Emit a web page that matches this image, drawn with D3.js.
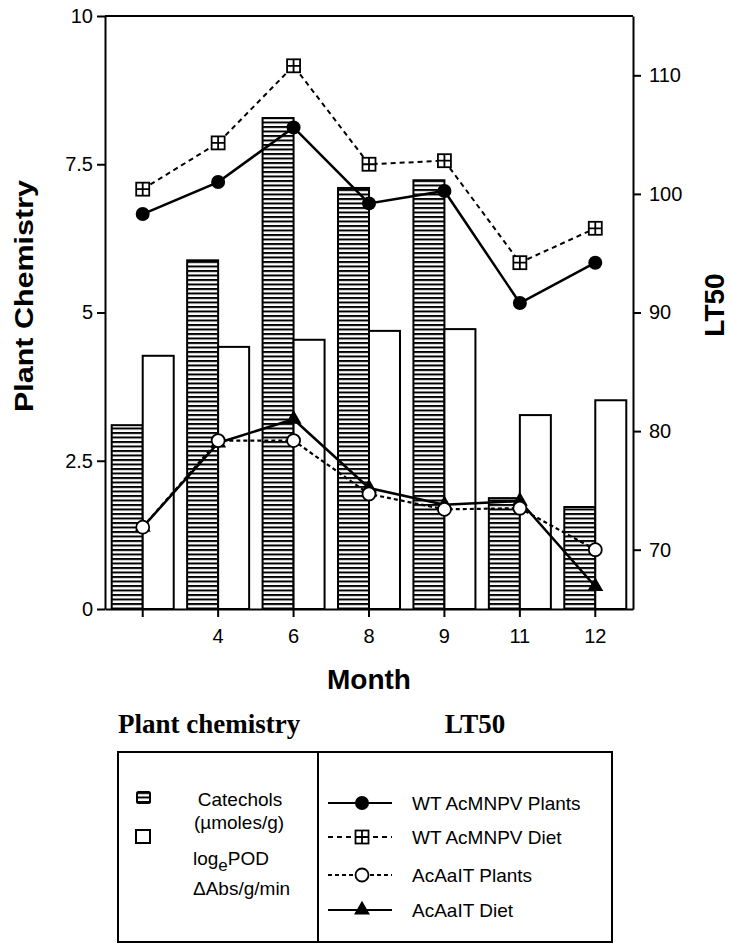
<!DOCTYPE html>
<html>
<head>
<meta charset="utf-8">
<style>
body { margin: 0; background: #fff; }
svg { display: block; }
.axis path, .axis line { stroke: #000; stroke-width: 2; }
.axis text { font-family: "Liberation Sans", Arial, sans-serif; font-size: 20px; fill: #000; }
.axis-title { font-family: "Liberation Sans", Arial, sans-serif; font-weight: bold; fill: #000; }
.legend-title { font-family: "Liberation Serif", "Times New Roman", serif; font-weight: bold; font-size: 27px; fill: #000; }
.legend-text { font-family: "Liberation Sans", Arial, sans-serif; font-size: 19px; fill: #000; }
.bar { stroke: #000; stroke-width: 2; }
</style>
</head>
<body>
<script src="https://cdn.jsdelivr.net/npm/d3@7"></script>
<script>
// values
var months = ["", "4", "6", "8", "9", "11", "12"];
var catechols = [3.1, 5.88, 8.28, 7.1, 7.23, 1.87, 1.72];
var logPOD = [4.27, 4.42, 4.54, 4.69, 4.72, 3.27, 3.52];
var wtPlants = [98.3, 101.0, 105.6, 99.2, 100.25, 90.8, 94.2];
var wtDiet = [100.4, 104.3, 110.8, 102.5, 102.8, 94.2, 97.1];
var aaitPlants = [71.9, 79.2, 79.2, 74.7, 73.4, 73.5, 70.0];
var aaitDiet = [71.9, 79.0, 81.0, 75.2, 73.8, 74.1, 66.9];
var leftTicks = [0, 2.5, 5, 7.5, 10];
var rightTicks = [70, 80, 90, 100, 110];

var width = 730, height = 945;
var plotLeft = 105, plotRight = 633, plotTop = 16, plotBottom = 609;

var svg = d3.select("body").append("svg")
	.attr("width", width)
	.attr("height", height);

var defs = svg.append("defs");
var hatch = defs.append("pattern")
	.attr("id", "hatch")
	.attr("patternUnits", "userSpaceOnUse")
	.attr("width", 10)
	.attr("height", 4.5);
hatch.append("rect").attr("width", 10).attr("height", 4.5).attr("fill", "#fff");
hatch.append("rect").attr("width", 10).attr("height", 2).attr("fill", "#000");

var x = d3.scaleBand().domain(months).range([plotLeft, plotRight]).padding(0);
var yL = d3.scaleLinear().domain([0, 10]).range([plotBottom, plotTop]);
var yR = d3.scaleLinear().domain([65, 115]).range([plotBottom, plotTop]);
var cx = function(i) { return x(months[i]) + x.bandwidth() / 2; };
var barW = 31;

// bars
svg.append("g").selectAll("rect")
	.data(catechols)
	.enter().append("rect")
	.attr("class", "bar")
	.attr("x", function(d, i) { return cx(i) - barW; })
	.attr("y", function(d) { return yL(d); })
	.attr("width", barW)
	.attr("height", function(d) { return yL(0) - yL(d); })
	.attr("fill", "url(#hatch)");

svg.append("g").selectAll("rect")
	.data(logPOD)
	.enter().append("rect")
	.attr("class", "bar")
	.attr("x", function(d, i) { return cx(i); })
	.attr("y", function(d) { return yL(d); })
	.attr("width", barW)
	.attr("height", function(d) { return yL(0) - yL(d); })
	.attr("fill", "#fff");

// frame + axes
svg.append("line")
	.attr("x1", plotLeft).attr("x2", plotRight).attr("y1", plotTop).attr("y2", plotTop)
	.attr("stroke", "#000").attr("stroke-width", 2);

svg.append("g").attr("class", "axis")
	.attr("transform", "translate(" + plotLeft + ",0)")
	.call(d3.axisLeft(yL).tickValues(leftTicks).tickSize(8).tickSizeOuter(0).tickPadding(4)
		.tickFormat(function(d) { return String(d); }));

svg.append("g").attr("class", "axis")
	.attr("transform", "translate(" + plotRight + ",0)")
	.call(d3.axisRight(yR).tickValues(rightTicks).tickSize(8).tickSizeOuter(0).tickPadding(8));

svg.append("g").attr("class", "axis")
	.attr("transform", "translate(0," + plotBottom + ")")
	.call(d3.axisBottom(x).tickSize(8).tickSizeOuter(0).tickPadding(12));

svg.append("text").attr("class", "axis-title")
	.attr("transform", "translate(33,296) rotate(-90)")
	.attr("text-anchor", "middle")
	.attr("font-size", 26)
	.attr("textLength", 232)
	.attr("lengthAdjust", "spacingAndGlyphs")
	.text("Plant Chemistry");

svg.append("text").attr("class", "axis-title")
	.attr("transform", "translate(724,305) rotate(-90)")
	.attr("text-anchor", "middle")
	.attr("font-size", 28)
	.text("LT50");

svg.append("text").attr("class", "axis-title")
	.attr("x", 369).attr("y", 689)
	.attr("text-anchor", "middle")
	.attr("font-size", 28)
	.text("Month");

// LT50 series
var line = d3.line()
	.x(function(d, i) { return cx(i); })
	.y(function(d) { return yR(d); });

function drawLine(data, dash, w) {
	svg.append("path")
		.datum(data)
		.attr("d", line)
		.attr("fill", "none")
		.attr("stroke", "#000")
		.attr("stroke-width", w)
		.attr("stroke-dasharray", dash);
}

function plusSquare(g, px, py) {
	g.append("rect").attr("x", px - 6.5).attr("y", py - 6.5).attr("width", 13).attr("height", 13)
		.attr("fill", "#fff").attr("stroke", "#000").attr("stroke-width", 1.8);
	g.append("path").attr("d", "M" + (px - 6.5) + "," + py + "H" + (px + 6.5) + "M" + px + "," + (py - 6.5) + "V" + (py + 6.5))
		.attr("stroke", "#000").attr("stroke-width", 1.8);
}

function marker(g, kind, px, py) {
	if (kind === "filled") {
		g.append("circle").attr("cx", px).attr("cy", py).attr("r", 7).attr("fill", "#000");
	} else if (kind === "open") {
		g.append("circle").attr("cx", px).attr("cy", py).attr("r", 6.5)
			.attr("fill", "#fff").attr("stroke", "#000").attr("stroke-width", 1.8);
	} else if (kind === "plus") {
		plusSquare(g, px, py);
	} else {
		g.append("path").attr("d", d3.symbol().type(d3.symbolTriangle).size(110)())
			.attr("transform", "translate(" + px + "," + py + ")")
			.attr("fill", "#000");
	}
}

function markers(data, kind) {
	var g = svg.append("g");
	data.forEach(function(d, i) { marker(g, kind, cx(i), yR(d)); });
}

drawLine(wtDiet, "5,4", 2);
markers(wtDiet, "plus");
drawLine(wtPlants, null, 2.5);
markers(wtPlants, "filled");
drawLine(aaitDiet, null, 2.5);
markers(aaitDiet, "triangle");
drawLine(aaitPlants, "4,3", 2.2);
markers(aaitPlants, "open");

// legend
svg.append("text").attr("class", "legend-title").attr("x", 118).attr("y", 733).text("Plant chemistry");
svg.append("text").attr("class", "legend-title").attr("x", 475).attr("y", 733)
	.attr("text-anchor", "middle").text("LT50");

var lg = svg.append("g");
lg.append("rect").attr("x", 118).attr("y", 752).attr("width", 494).attr("height", 190)
	.attr("fill", "none").attr("stroke", "#000").attr("stroke-width", 2);
lg.append("line").attr("x1", 318).attr("x2", 318).attr("y1", 752).attr("y2", 942)
	.attr("stroke", "#000").attr("stroke-width", 2);

lg.append("rect").attr("x", 137).attr("y", 792).attr("width", 13).attr("height", 11).attr("rx", 1.5)
	.attr("fill", "url(#hatch)").attr("stroke", "#000").attr("stroke-width", 2);
lg.append("rect").attr("x", 136).attr("y", 830).attr("width", 14).attr("height", 13)
	.attr("fill", "#fff").attr("stroke", "#000").attr("stroke-width", 2);

lg.append("text").attr("class", "legend-text").attr("x", 240).attr("y", 806)
	.attr("text-anchor", "middle").text("Catechols");
lg.append("text").attr("class", "legend-text").attr("x", 239).attr("y", 829)
	.attr("text-anchor", "middle").text("(\u00b5moles/g)");
var pod = lg.append("text").attr("class", "legend-text").attr("x", 193).attr("y", 865);
pod.append("tspan").text("log");
pod.append("tspan").attr("dy", 6).attr("font-size", 17).text("e");
pod.append("tspan").attr("dy", -6).text("POD");
lg.append("text").attr("class", "legend-text").attr("x", 193).attr("y", 895).text("\u0394Abs/g/min");

var items = [
	{label: "WT AcMNPV Plants", kind: "filled", dash: null, y: 803},
	{label: "WT AcMNPV Diet", kind: "plus", dash: "5,4", y: 837},
	{label: "AcAaIT Plants", kind: "open", dash: "4,3", y: 875},
	{label: "AcAaIT Diet", kind: "triangle", dash: null, y: 910}
];
items.forEach(function(it) {
	lg.append("line").attr("x1", 328).attr("x2", 392).attr("y1", it.y).attr("y2", it.y)
		.attr("stroke", "#000").attr("stroke-width", 2.2).attr("stroke-dasharray", it.dash);
	marker(lg, it.kind, 362, it.y);
	lg.append("text").attr("class", "legend-text").attr("x", 412).attr("y", it.y + 7).text(it.label);
});
</script>
</body>
</html>
